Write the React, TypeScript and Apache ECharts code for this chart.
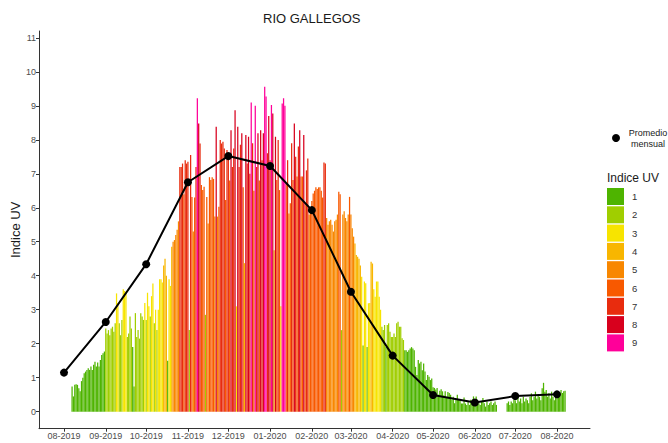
import React, { useEffect, useRef } from "react";
import * as echarts from "echarts";

// Daily UV index values (first value = 7 Aug 2019, consecutive days)
const firstDay = [2019, 7, 7]; // year, month (0-based), day
const aug2019 = [0.74, 0.45, 0.79, 0.81, 0.79, 0.69, 0.6, 0.9, 1.0, 1.13, 1.18, 1.23, 1.28, 1.23, 1.33, 1.23, 1.38, 1.47, 1.33, 1.45, 1.33, 1.52, 1.67, 1.72, 1.77];
const sep2019 = [2.45, 2.3, 2.4, 2.25, 2.45, 2.5, 2.35, 2.6, 3.48, 3.2, 2.6, 2.25, 2.7, 3.6, 3.55, 3.5, 2.2, 2.3, 2.8, 2.45, 1.9, 0.74, 2.9, 2.2, 2.4, 2.15, 2.9, 2.8, 2.7, 3.2];
const oct2019 = [2.7, 3.5, 3.1, 2.8, 3.4, 3.77, 2.6, 3.0, 2.4, 3.0, 3.9, 3.9, 3.8, 4.3, 4.5, 4.0, 1.5, 3.9, 3.7, 4.85, 5.0, 5.05, 5.2, 5.35, 5.6, 7.2, 7.2, 7.3, 6.4, 7.4, 7.3];
const nov2019 = [7.35, 2.4, 7.55, 6.32, 5.3, 6.3, 7.2, 9.22, 8.48, 7.89, 6.67, 6.52, 6.62, 2.85, 6.32, 5.54, 6.9, 6.82, 6.9, 6.85, 5.74, 8.38, 5.74, 6.03, 7.99, 7.89, 7.94, 7.74, 6.23, 7.7];
const dec2019 = [7.5, 6.8, 8.28, 7.2, 7.74, 8.87, 3.1, 8.38, 7.2, 7.85, 8.19, 6.6, 4.37, 8.14, 7.3, 8.09, 7.0, 9.1, 7.9, 6.5, 9.0, 7.2, 8.19, 6.8, 8.28, 7.4, 8.19, 9.56, 9.27, 7.6, 8.7];
const jan2020 = [7.4, 9.02, 8.77, 4.75, 8.09, 6.82, 7.99, 6.52, 3.1, 9.07, 9.22, 9.0, 6.72, 7.4, 5.83, 6.13, 7.9, 6.82, 8.48, 7.5, 6.92, 7.8, 8.28, 6.92, 6.92, 8.14, 6.13, 7.1, 7.45, 5.8, 6.0];
const feb2020 = [6.2, 6.42, 6.5, 6.6, 6.55, 6.6, 6.6, 6.5, 6.3, 7.33, 7.3, 5.7, 5.5, 5.6, 5.65, 5.5, 5.3, 5.6, 5.65, 5.8, 6.47, 6.4, 2.4, 5.8, 5.9, 5.7, 5.6, 5.8, 6.32];
const mar2020 = [5.8, 5.4, 5.15, 4.95, 4.61, 4.56, 4.5, 4.3, 3.97, 1.95, 3.83, 3.78, 1.9, 3.19, 3.2, 4.41, 4.36, 3.6, 3.38, 3.83, 3.83, 3.38, 3.0, 2.5, 2.4, 2.55, 1.9, 2.55, 2.6, 2.35, 2.2];
const apr2020 = [2.2, 2.3, 2.2, 2.6, 2.65, 2.5, 2.5, 2.16, 2.11, 1.81, 1.81, 1.76, 1.81, 1.86, 1.9, 1.86, 1.81, 1.32, 1.08, 1.52, 1.42, 1.47, 1.22, 1.42, 1.18, 0.93, 1.08, 1.03, 0.93, 0.98];
const may2020 = [0.72, 0.7, 0.65, 0.7, 0.5, 0.62, 0.66, 0.6, 0.48, 0.6, 0.42, 0.58, 0.55, 0.5, 0.35, 0.44, 0.25, 0.35, 0.5, 0.35, 0.35, 0.24, 0.24, 0.42, 0.24, 0.2, 0.3, 0.2, 0.35, 0.3, 0.45];
const jun2020 = [0.3, 0.45, 0.35, 0.25, 0.2, 0.3, 0.4, 0.25, 0.15, 0.3, 0.2, 0.25, 0.3, 0.2, 0.25, 0.3, 0.2, null, null, null, null, null, null, null, 0.25, 0.3, 0.2, 0.3, 0.25, 0.35];
const jul2020 = [0.34, 0.25, 0.44, 0.3, 0.39, 0.25, 0.44, 0.3, 0.39, 0.34, 0.25, 0.44, 0.54, 0.34, 0.44, 0.59, 0.39, 0.49, 0.44, 0.34, 0.69, 0.85, 0.59, 0.64, 0.44, 0.54, 0.39, 0.59, 0.44, 0.34, 0.54];
const aug2020 = [0.39, 0.6, 0.55, 0.64, 0.55, 0.6, 0.62];

// Monthly means, plotted on the first day of each month
const monthLabels = ["08-2019", "09-2019", "10-2019", "11-2019", "12-2019", "01-2020", "02-2020", "03-2020", "04-2020", "05-2020", "06-2020", "07-2020", "08-2020"];
const monthlyMean = [1.15, 2.64, 4.34, 6.75, 7.52, 7.23, 5.93, 3.53, 1.65, 0.49, 0.27, 0.46, 0.51];

const uvCategories = ["1", "2", "3", "4", "5", "6", "7", "8", "9"];
const uvColors = ["#4eb400", "#a0ce00", "#f7e400", "#f8b600", "#f88700", "#f85900", "#e82c0e", "#d8001d", "#ff0099"];
const yTicks = [0, 1, 2, 3, 4, 5, 6, 7, 8, 9, 10, 11];

const DAY = 86400000;
const FONT = "Liberation Sans, Arial, sans-serif";

export default function App() {
  const ref = useRef<HTMLDivElement>(null);
  useEffect(() => {
    if (!ref.current) return;
    const chart = echarts.init(ref.current, null, { renderer: "svg" });

    const daily = [
      ...aug2019, ...sep2019, ...oct2019, ...nov2019, ...dec2019, ...jan2020,
      ...feb2020, ...mar2020, ...apr2020, ...may2020, ...jun2020, ...jul2020, ...aug2020,
    ];
    const t0 = Date.UTC(firstDay[0], firstDay[1], firstDay[2]);
    const perCat: [number, number][][] = uvCategories.map(() => []);
    daily.forEach((v, i) => {
      if (v === null || v === undefined) return;
      const cat = Math.min(9, Math.max(1, Math.floor(v)));
      perCat[cat - 1].push([t0 + i * DAY, v]);
    });

    const monthTs = monthLabels.map((l) => {
      const [m, y] = l.split("-").map(Number);
      return Date.UTC(y, m - 1, 1);
    });
    const labelByTs: Record<number, string> = {};
    monthTs.forEach((t, i) => (labelByTs[t] = monthLabels[i]));

    const xMin = monthTs[0] - 18.56 * DAY;
    const xMax = monthTs[monthTs.length - 1] + 24.5 * DAY;

    const barSeries = uvCategories.map((name, k) => ({
      type: "bar",
      name,
      data: perCat[k],
      barWidth: 1.25,
      barGap: "-100%",
      itemStyle: { color: uvColors[k] },
      silent: true,
      emphasis: { disabled: true },
    }));

    chart.setOption({
      animation: false,
      textStyle: { fontFamily: FONT },
      title: {
        text: "RIO GALLEGOS",
        left: 258,
        top: 7,
        textStyle: { fontSize: 13, fontWeight: "normal", color: "#1a1a1a", fontFamily: FONT },
      },
      grid: { left: 39, right: 78, top: 31, bottom: 14.3, containLabel: false, outerBoundsMode: "none" },
      xAxis: {
        type: "value",
        min: xMin,
        max: xMax,
        axisLine: { show: true, onZero: false, lineStyle: { color: "#333", width: 1 } },
        axisTick: { show: true, length: 3, lineStyle: { color: "#333" }, customValues: monthTs },
        axisLabel: {
          customValues: monthTs,
          formatter: (v: number) => labelByTs[v] ?? "",
          fontSize: 9,
          color: "#4d4d4d",
          margin: 3,
          fontFamily: FONT,
        },
        splitLine: { show: false },
      },
      yAxis: {
        type: "value",
        min: -0.5,
        max: 11.2,
        name: "Indice UV",
        nameLocation: "middle",
        nameGap: 17,
        nameMoveOverlap: false,
        nameTextStyle: { fontSize: 13, color: "#1a1a1a", fontFamily: FONT },
        axisLine: { show: true, lineStyle: { color: "#333", width: 1 } },
        axisTick: { show: true, length: 3, lineStyle: { color: "#333" }, customValues: yTicks },
        axisLabel: { customValues: yTicks, fontSize: 9, color: "#4d4d4d", margin: 3, fontFamily: FONT },
        splitLine: { show: false },
      },
      legend: {
        data: uvCategories,
        orient: "vertical",
        left: 607,
        top: 188,
        padding: 0,
        itemWidth: 17,
        itemHeight: 17,
        itemGap: 1.3,
        icon: "rect",
        selectedMode: false,
        textStyle: { fontSize: 9.5, color: "#333", padding: [0, 0, 0, 3], fontFamily: FONT },
      },
      graphic: [
        { type: "circle", shape: { cx: 616, cy: 138, r: 4 }, style: { fill: "#000" } },
        {
          type: "text",
          x: 648,
          y: 138,
          style: {
            text: "Promedio\nmensual",
            fontSize: 9,
            lineHeight: 11,
            fill: "#1a1a1a",
            align: "center",
            verticalAlign: "middle",
            fontFamily: FONT,
          },
        },
        {
          type: "text",
          x: 607,
          y: 178,
          style: { text: "Indice UV", fontSize: 12, fill: "#1a1a1a", verticalAlign: "middle", fontFamily: FONT },
        },
      ],
      series: [
        ...barSeries,
        {
          type: "line",
          name: "Promedio mensual",
          data: monthlyMean.map((v, i) => [monthTs[i], v]),
          symbol: "circle",
          symbolSize: 8,
          lineStyle: { color: "#000", width: 2 },
          itemStyle: { color: "#000" },
          z: 10,
          silent: true,
        },
      ],
    });
    return () => chart.dispose();
  }, []);
  return <div ref={ref} style={{ width: 668, height: 443, position: "absolute", left: 0, top: 0 }} />;
}
